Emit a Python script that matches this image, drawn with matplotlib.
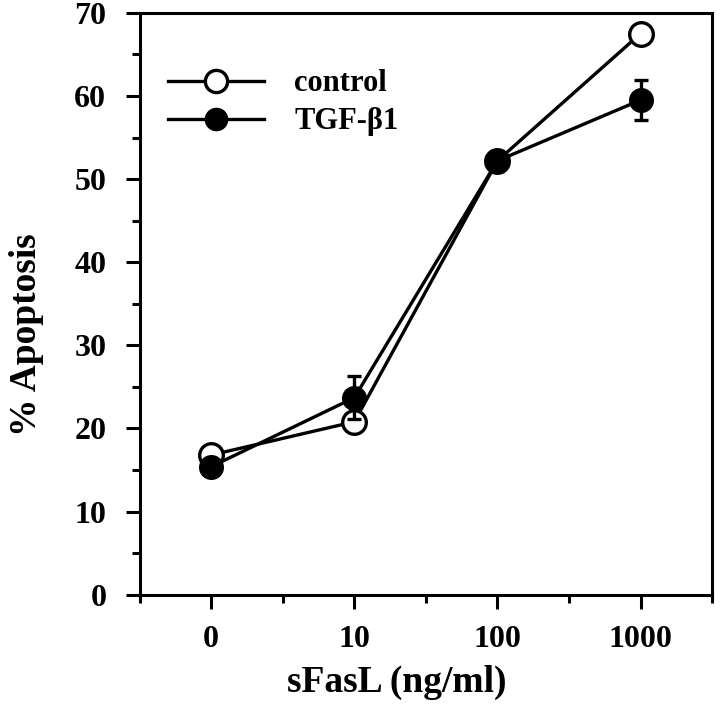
import numpy as np
import matplotlib
matplotlib.use("Agg")
import matplotlib.pyplot as plt
from matplotlib.lines import Line2D

# data
doses = ["0", "10", "100", "1000"]
control = [16.8, 20.8, 52.2, 67.5]
tgf = [15.4, 23.7, 52.2, 59.5]
tgf_err = [0.0, 2.6, 1.2, 2.4]

plt.rcParams['font.family'] = ['Liberation Serif', 'DejaVu Serif']
plt.rcParams['font.weight'] = 'bold'

fig = plt.figure(figsize=(7.2, 7.13), dpi=100)
ax = fig.add_axes([0.194, 0.166, 0.795, 0.816])

x = np.arange(len(doses))
lw = 2.4
ms = 17

ax.plot(x, control, color='black', lw=lw, marker='o', ms=ms,
        mfc='white', mec='black', mew=2.4, zorder=3)
ax.errorbar(x, tgf, yerr=tgf_err, color='black', lw=lw, marker='o', ms=ms,
            mfc='black', mec='black', capsize=5, capthick=2.4, elinewidth=2.4,
            zorder=4)

ax.set_xlim(-0.5, 3.5)
ax.set_ylim(0, 70)
ax.set_xticks(x)
ax.set_xticklabels(doses)
ax.set_xticks([-0.5, 0.5, 1.5, 2.5, 3.5], minor=True)
ax.set_yticks(np.arange(0, 71, 10))
ax.set_yticks(np.arange(5, 70, 10), minor=True)

ax.tick_params(axis='both', which='major', direction='out', length=10,
               width=2.2, labelsize=23)
ax.tick_params(axis='x', which='major', pad=12)
ax.tick_params(axis='y', which='major', pad=14)
ax.tick_params(axis='both', which='minor', direction='out', length=6,
               width=2.2)
for lab in ax.get_xticklabels() + ax.get_yticklabels():
    lab.set_fontweight('bold')
for s in ax.spines.values():
    s.set_linewidth(2.2)

ax.set_xlabel("sFasL (ng/ml)", fontsize=27, fontweight='bold', labelpad=8)
ax.set_ylabel("% Apoptosis", fontsize=27, fontweight='bold', labelpad=22)
ax.xaxis.label.set_x(0.449)
ax.yaxis.label.set_y(0.447)

handles = [
    Line2D([], [], color='black', lw=lw, marker='o', ms=16, mfc='white',
           mec='black', mew=2.4),
    Line2D([], [], color='black', lw=lw, marker='o', ms=16, mfc='black',
           mec='black'),
]
ax.legend(handles, ["control", "TGF-\u03b21"], loc='upper left',
          bbox_to_anchor=(0.006, 0.945), frameon=False, handlelength=3.15,
          handletextpad=1.0, labelspacing=0.3, borderpad=0.3,
          prop={'size': 22, 'weight': 'bold'})

fig.savefig("out.png", dpi=100)
